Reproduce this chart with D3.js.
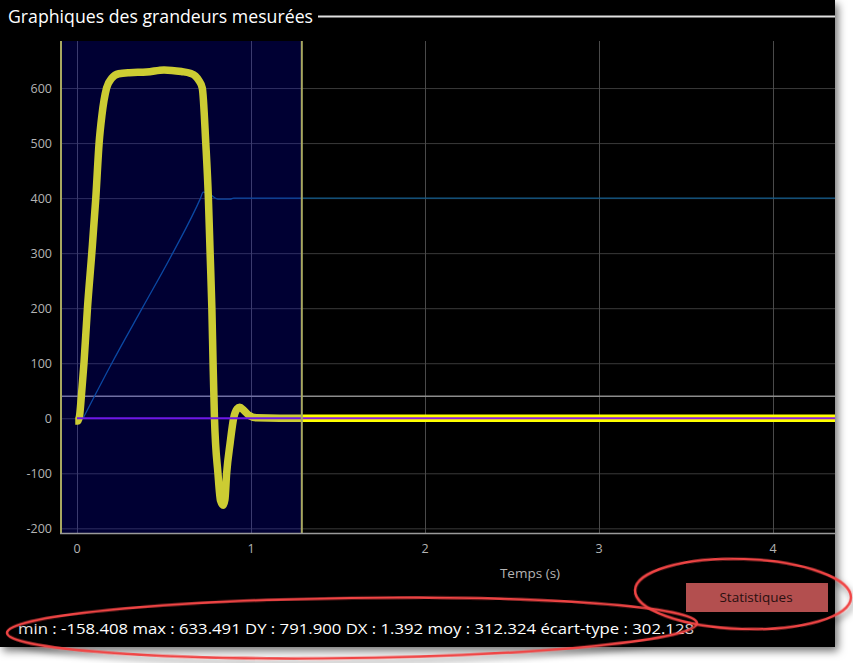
<!DOCTYPE html>
<html><head><meta charset="utf-8">
<script src="https://cdn.jsdelivr.net/npm/d3@7"></script>
<style>html,body{margin:0;padding:0;background:#fff;overflow:hidden}</style>
</head><body>
<svg id="c" width="853" height="663"></svg>
<script>
// ---- data ----
const title = "Graphiques des grandeurs mesurées";
const xTicks = [0, 1, 2, 3, 4];
const yTicks = [-200, -100, 0, 100, 200, 300, 400, 500, 600];
const measT = [-0.01, 0.005, 0.015, 0.025, 0.04, 0.06, 0.085, 0.108, 0.127, 0.143, 0.17, 0.2, 0.24, 0.3, 0.4, 0.5, 0.6, 0.65, 0.68, 0.7, 0.72, 0.74, 0.755, 0.765, 0.775, 0.782, 0.79, 0.81, 0.825, 0.84, 0.85, 0.86, 0.88, 0.9, 0.92, 0.935, 0.96, 0.99, 1.03, 1.3, 2.5, 4.5];
const measV = [-5, -5, 5, 40, 100, 200, 300, 400, 500, 550, 600, 618, 626, 628, 629, 633, 630, 627, 622, 614, 600, 500, 400, 300, 200, 100, 0, -100, -150, -158, -148, -100, -45, 0, 17, 20, 14, 5, 1, 0, 0, 0];
const consT = [0.035, 0.2, 0.375, 0.55, 0.71, 0.725, 0.76, 0.8, 0.82, 0.88, 0.9, 4.5];
const consV = [0, 100, 200, 300, 400, 411, 408, 399, 398, 398, 400, 400];
const setpointT = [0, 4.5];
const setpointV = [0, 0];
const thresholdV = 40;
const selection = [-0.1, 1.292];
const statsText = "min : -158.408 max : 633.491 DY : 791.900 DX : 1.392 moy : 312.324 écart-type : 302.128";
const xLabel = "Temps (s)";
const buttonLabel = "Statistiques";

// ---- layout ----
const svg = d3.select("#c");
const font = "'Open Sans', 'Noto Sans', sans-serif";
const plot = {l: 60, r: 835, t: 41, b: 533};
const x = d3.scaleLinear().domain([-0.0977, 4.356]).range([plot.l, plot.r]);
const y = d3.scaleLinear().domain([-208.5, 685.5]).range([plot.b, plot.t]);

const defs = svg.append("defs");
const f = defs.append("filter").attr("id", "sh").attr("x", "-5%").attr("y", "-5%").attr("width", "115%").attr("height", "120%");
f.append("feDropShadow").attr("dx", 3).attr("dy", 4).attr("stdDeviation", 4).attr("flood-color", "#000").attr("flood-opacity", 0.55);
const f2 = defs.append("filter").attr("id", "esh").attr("x", "-10%").attr("y", "-30%").attr("width", "120%").attr("height", "170%");
f2.append("feDropShadow").attr("dx", 2).attr("dy", 4).attr("stdDeviation", 3).attr("flood-color", "#000").attr("flood-opacity", 0.5);
defs.append("clipPath").attr("id", "clip").append("rect")
  .attr("x", plot.l).attr("y", plot.t).attr("width", plot.r - plot.l).attr("height", plot.b - plot.t);

// panel
svg.append("rect").attr("x", 0).attr("y", 0).attr("width", 835).attr("height", 647)
  .attr("fill", "#000").attr("filter", "url(#sh)");

// title + rule
svg.append("text").attr("x", 8).attr("y", 23).attr("fill", "#fff")
  .attr("font-family", font).attr("font-size", 17.5)
  .attr("textLength", 305).attr("lengthAdjust", "spacingAndGlyphs").text(title);
svg.append("line").attr("x1", 318).attr("x2", 835).attr("y1", 16.5).attr("y2", 16.5)
  .attr("stroke", "#e0e0e0").attr("stroke-width", 2);

const g = svg.append("g").attr("clip-path", "url(#clip)");

// grid
g.selectAll(".gy").data(yTicks).join("line")
  .attr("x1", plot.l).attr("x2", plot.r).attr("y1", d => y(d) + 0.5).attr("y2", d => y(d) + 0.5)
  .attr("stroke", "#3a3a3a").attr("stroke-width", 1);
g.selectAll(".gx").data(xTicks).join("line")
  .attr("x1", d => Math.round(x(d)) + 0.5).attr("x2", d => Math.round(x(d)) + 0.5).attr("y1", plot.t).attr("y2", plot.b)
  .attr("stroke", "#4a4a4a").attr("stroke-width", 1);

// threshold line
g.append("line").attr("x1", plot.l).attr("x2", plot.r).attr("y1", y(thresholdV)).attr("y2", y(thresholdV))
  .attr("stroke", "#8c8c8c").attr("stroke-width", 1.5);

const line = d3.line().x(d => x(d[0])).y(d => y(d[1])).curve(d3.curveMonotoneX);

// consigne (blue)
g.append("path").datum(d3.zip(consT, consV)).attr("d", line)
  .attr("fill", "none").attr("stroke", "#0e5a8c").attr("stroke-width", 1.3);

// measured (yellow, thick)
g.append("path").datum(d3.zip(measT, measV)).attr("d", line)
  .attr("fill", "none").attr("stroke", "#ffff00").attr("stroke-width", 7.5)
  .attr("stroke-linejoin", "round");

// setpoint (purple)
g.append("path").datum(d3.zip(setpointT, setpointV)).attr("d", d3.line().x(d => x(d[0])).y(d => y(d[1])))
  .attr("fill", "none").attr("stroke", "#8a1ee0").attr("stroke-width", 2);

// selection overlay
g.append("rect").attr("x", x(selection[0])).attr("y", plot.t)
  .attr("width", x(selection[1]) - x(selection[0])).attr("height", plot.b - plot.t)
  .attr("fill", "rgb(0,0,255)").attr("fill-opacity", 0.2);
[selection[0], selection[1]].forEach(s => {
  svg.append("line").attr("x1", Math.max(plot.l + 1, x(s))).attr("x2", Math.max(plot.l + 1, x(s)))
    .attr("y1", plot.t).attr("y2", plot.b).attr("stroke", "#a8a860").attr("stroke-width", 2);
});

// axes
svg.append("line").attr("x1", plot.l).attr("x2", plot.r).attr("y1", plot.b + 0.5).attr("y2", plot.b + 0.5)
  .attr("stroke", "#9a9a9a").attr("stroke-width", 1.5);

svg.selectAll(".yl").data(yTicks).join("text")
  .attr("x", 52).attr("y", d => y(d) + 4.5).attr("text-anchor", "end")
  .attr("fill", "#b4b4b4").attr("font-family", font).attr("font-size", 12.5)
  .text(d => d);
svg.selectAll(".xl").data(xTicks).join("text")
  .attr("x", d => x(d)).attr("y", 553).attr("text-anchor", "middle")
  .attr("fill", "#b4b4b4").attr("font-family", font).attr("font-size", 12.5)
  .text(d => d);
svg.append("text").attr("x", 530).attr("y", 578).attr("text-anchor", "middle")
  .attr("fill", "#b4b4b4").attr("font-family", font).attr("font-size", 13.5).text(xLabel);

// button
svg.append("rect").attr("x", 686).attr("y", 583).attr("width", 142).attr("height", 29).attr("fill", "#b34f4f");
svg.append("text").attr("x", 756).attr("y", 602).attr("text-anchor", "middle")
  .attr("fill", "#2a1010").attr("font-family", font).attr("font-size", 13.5).text(buttonLabel);

// stats
svg.append("text").attr("x", 18).attr("y", 634).attr("fill", "#fff")
  .attr("font-family", font).attr("font-size", 15)
  .attr("textLength", 676).attr("lengthAdjust", "spacingAndGlyphs").text(statsText);

// annotation ellipses
svg.append("ellipse").attr("cx", 352).attr("cy", 628).attr("rx", 345).attr("ry", 30)
  .attr("transform", "rotate(-0.8 352 628)")
  .attr("fill", "none").attr("stroke", "#f04545").attr("stroke-width", 2.5).attr("filter", "url(#esh)");
svg.append("ellipse").attr("cx", 743).attr("cy", 594).attr("rx", 108).attr("ry", 35)
  .attr("transform", "rotate(2 743 594)")
  .attr("fill", "none").attr("stroke", "#f04545").attr("stroke-width", 2.5).attr("filter", "url(#esh)");
</script>
</body></html>
